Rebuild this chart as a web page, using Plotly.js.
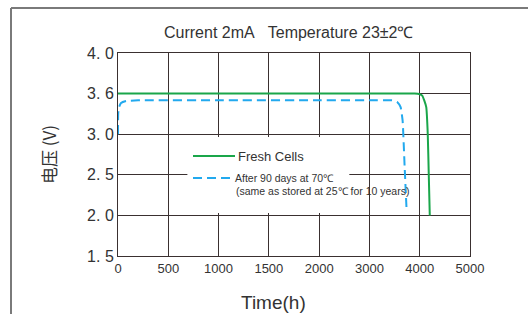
<!DOCTYPE html>
<html>
<head>
<meta charset="utf-8">
<script src="https://cdn.plot.ly/plotly-3.0.1.min.js"></script>
<style>html,body{margin:0;padding:0;background:#fff;}#chart{width:528px;height:314px;}</style>
</head>
<body>
<div id="chart"></div>
<script>
// Tick values (axes are drawn with equally spaced, non-uniform ticks as in the original)
const xTickValues = [0, 500, 1000, 1500, 2000, 3000, 4000, 5000];
const xTickLabels = ["0", "500", "1000", "1500", "2000", "3000", "4000", "5000"];
const yTickValues = [1.5, 2.0, 2.5, 3.0, 3.6, 4.0];
const yTickLabels = ["1. 5", "2. 0", "2. 5", "3. 0", "3. 6", "4. 0"];

// Series: Fresh Cells
const freshHours   = [0, 1000, 2000, 3000, 3900, 4000, 4050, 4090, 4130, 4160, 4180, 4200];
const freshVoltage = [3.6, 3.6, 3.6, 3.6, 3.6, 3.59, 3.57, 3.5, 3.4, 3.0, 2.5, 2.0];

// Series: After 90 days at 70℃
const agedHours   = [0, 2, 10, 30, 80, 200, 1000, 2000, 3000, 3470, 3560, 3620, 3660, 3700, 3740];
const agedVoltage = [3.0, 3.3, 3.4, 3.46, 3.49, 3.5, 3.5, 3.5, 3.5, 3.5, 3.47, 3.4, 3.2, 2.6, 2.05];

const seriesNames = ["Fresh Cells", "After 90 days at 70℃<br>(same as stored at 25℃ for 10 years)"];

// Map a value onto the equally spaced tick scale (piecewise linear between ticks)
function toScale(v, ticks) {
  for (let i = 0; i < ticks.length - 1; i++) {
    if (v <= ticks[i + 1] || i === ticks.length - 2) {
      return i + (v - ticks[i]) / (ticks[i + 1] - ticks[i]);
    }
  }
}
const mx = a => a.map(v => toScale(v, xTickValues));
const my = a => a.map(v => toScale(v, yTickValues));

const green = "#1aa64a";
const blue = "#22a9ee";
const grid = "#3a3030";

const traces = [
  {x: mx(freshHours), y: my(freshVoltage), mode: "lines", name: seriesNames[0],
   line: {color: green, width: 2, shape: "spline", smoothing: 0.4}, showlegend: false},
  {x: mx(agedHours), y: my(agedVoltage), mode: "lines", name: seriesNames[1],
   line: {color: blue, width: 2, dash: "9px,5px", shape: "spline", smoothing: 0.4}, showlegend: false}
];

const layout = {
  width: 528, height: 314,
  margin: {l: 118, r: 58, t: 53, b: 58},
  paper_bgcolor: "#fff", plot_bgcolor: "#fff",
  font: {family: "Liberation Sans, Arial, sans-serif", color: "#333"},
  xaxis: {
    range: [0, 7], tickvals: xTickValues.map((_, i) => i), ticktext: xTickLabels,
    showgrid: true, gridcolor: grid, gridwidth: 1, zeroline: false,
    showline: true, linecolor: grid, linewidth: 1, mirror: true, ticks: "",
    tickfont: {size: 13, color: "#333"},
    fixedrange: true
  },
  yaxis: {
    range: [0, 5], tickvals: yTickValues.map((_, i) => i), ticktext: yTickLabels,
    showgrid: true, gridcolor: grid, gridwidth: 1, zeroline: false,
    showline: true, linecolor: grid, linewidth: 1, mirror: true, ticks: "",
    tickfont: {size: 16, color: "#333"},
    title: {text: "电压 (V)", font: {size: 17, color: "#333", family: "Noto Sans CJK SC, sans-serif"}, standoff: 26},
    fixedrange: true
  },
  shapes: [
    // white legend backing box covering gridlines
    {type: "rect", xref: "x", yref: "y", x0: 1.38, x1: 4.6, y0: 1.06, y1: 2.93,
     fillcolor: "#fff", line: {width: 0}, layer: "between"},
    // legend samples
    {type: "line", xref: "paper", yref: "paper", x0: (193-118)/352, x1: (235-118)/352,
     y0: (256-156)/203, y1: (256-156)/203, line: {color: green, width: 2}},
    {type: "line", xref: "paper", yref: "paper", x0: (193-118)/352, x1: (232-118)/352,
     y0: (256-178)/203, y1: (256-178)/203, line: {color: blue, width: 2, dash: "9px,5px"}},
    // outer frame
    {type: "line", xref: "paper", yref: "paper", x0: (11-118)/352, x1: (540-118)/352,
     y0: (256-8)/203, y1: (256-8)/203, line: {color: "#7a7a7a", width: 2}},
    {type: "line", xref: "paper", yref: "paper", x0: (11-118)/352, x1: (11-118)/352,
     y0: (256-8)/203, y1: (256-330)/203, line: {color: "#7a7a7a", width: 2}}
  ],
  annotations: [
    {text: "Current 2mA&nbsp;&nbsp; Temperature 23±2℃", xref: "paper", yref: "paper",
     x: (288-118)/352, y: (256-33)/203, xanchor: "center", yanchor: "middle", showarrow: false,
     font: {size: 16, color: "#333"}},
    {text: "Time(h)", xref: "paper", yref: "paper", x: (273-118)/352, y: (256-302)/203,
     xanchor: "center", yanchor: "middle", showarrow: false, font: {size: 19, color: "#333"}},
    {text: seriesNames[0], xref: "paper", yref: "paper", x: (236-118)/352, y: (256-156)/203,
     xanchor: "left", yanchor: "middle", showarrow: false, font: {size: 13, color: "#333"}},
    {text: "After 90 days at 70℃", xref: "paper", yref: "paper", x: (233-118)/352, y: (256-178)/203,
     xanchor: "left", yanchor: "middle", showarrow: false,
     font: {size: 10.5, color: "#333"}},
    {text: "(same as stored at 25℃ for 10 years)", xref: "paper", yref: "paper", x: (234-118)/352, y: (256-191)/203,
     xanchor: "left", yanchor: "middle", showarrow: false,
     font: {size: 10.5, color: "#333"}}
  ],
  showlegend: false
};

Plotly.newPlot("chart", traces, layout, {displayModeBar: false, staticPlot: true});
</script>
</body>
</html>
